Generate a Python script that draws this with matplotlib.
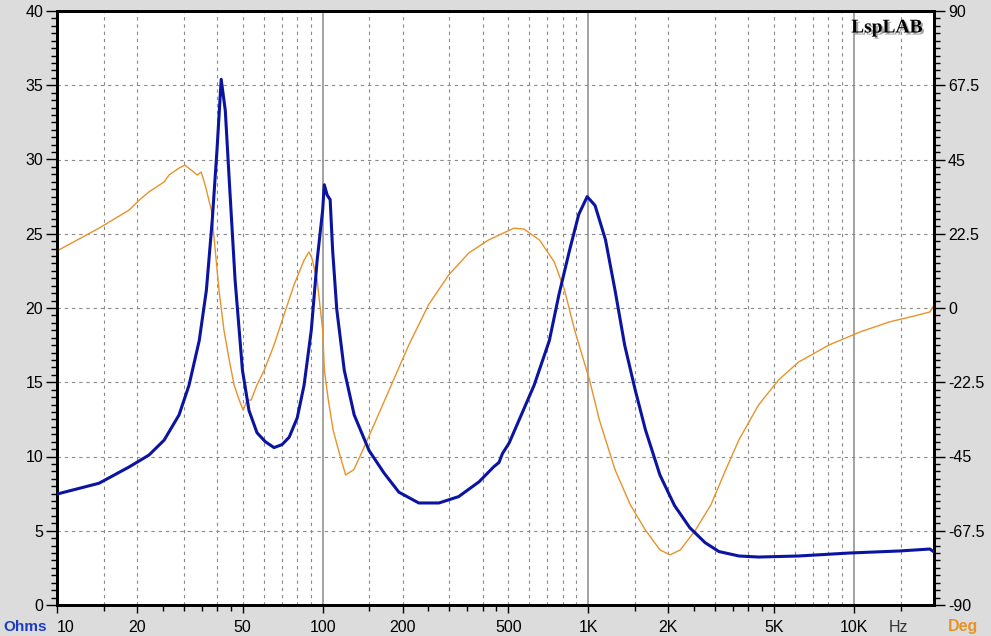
import matplotlib.pyplot as plt
import matplotlib.ticker as mticker
import matplotlib.patheffects as pe

plt.rcParams['font.family'] = ['Liberation Sans', 'DejaVu Sans']

# impedance magnitude (Ohms)
imp_freq = [10, 14.4, 18.7, 22.2, 25.3, 28.8, 31.4, 34.3, 36.5, 38.4, 40.0, 41.5, 43.0,
            44.5, 46.8, 49.9, 52.8, 56.6, 60.8, 65.6, 70.3, 74.8, 80.2, 85.1, 90.6,
            95.3, 100, 101.4, 104, 106.7, 109, 113, 120.6, 131.4, 149.5, 170, 193.5,
            230, 274, 325, 388, 440, 461, 475, 503, 550, 625, 713, 775, 850, 920, 990,
            1060, 1160, 1260, 1370, 1500, 1640, 1860, 2110, 2410, 2750, 3100, 3690,
            4370, 6180, 9600, 14900, 19300, 20000]
imp_ohm = [7.47, 8.2, 9.3, 10.1, 11.1, 12.8, 14.8, 17.8, 21.2, 25.9, 30.6, 35.4, 33.3,
           28.6, 21.9, 15.8, 13.1, 11.6, 11.0, 10.6, 10.8, 11.3, 12.6, 14.8, 18.5,
           23.2, 26.6, 28.3, 27.6, 27.3, 23.9, 19.9, 15.8, 12.8, 10.4, 8.9, 7.6,
           6.87, 6.87, 7.3, 8.3, 9.3, 9.6, 10.2, 10.9, 12.5, 14.8, 17.8, 20.9, 23.9,
           26.3, 27.5, 26.9, 24.6, 21.2, 17.5, 14.5, 11.8, 8.75, 6.7, 5.2, 4.2, 3.6,
           3.3, 3.23, 3.3, 3.5, 3.64, 3.77, 3.57]

# impedance phase (degrees)
ph_freq = [10, 14.4, 18.7, 20.4, 22.2, 25.3, 26.4, 28.8, 30.3, 32, 33.7, 34.9, 36.1,
           38.1, 39.4, 40.7, 42.5, 44.5, 46.4, 48.5, 50.2, 52, 53.8, 56.6, 60.3, 65.6,
           71.5, 78, 85.1, 88.8, 91, 95.3, 100, 101.5, 105, 109.5, 116, 122, 131, 139,
           156, 178, 211, 250, 298, 355, 421, 461, 525, 573, 655, 745, 813, 888, 1010,
           1100, 1260, 1440, 1640, 1860, 2030, 2220, 2530, 2890, 3290, 3690, 4370,
           5200, 6180, 8050, 10500, 13600, 16900, 19300, 20000]
ph_deg = [17.3, 24.2, 29.7, 32.7, 35.2, 38.2, 40.3, 42.4, 43.3, 41.8, 40.3, 41.2, 37.3,
          29.7, 17.6, 5.5, -6.7, -15.8, -23.3, -27.9, -30.9, -27.9, -27.9, -23.3, -18.8,
          -11.2, -2.1, 7.0, 14.5, 17.0, 15.2, 8.5, -6.7, -18.8, -27.9, -37.0, -44.5,
          -50.6, -49.0, -44.5, -35.4, -24.8, -11.2, 0.9, 10.0, 16.7, 20.6, 22.1, 24.2,
          23.9, 20.6, 13.9, 5.5, -6.7, -21.8, -33.9, -49.0, -59.7, -67.3, -73.3, -74.8,
          -73.3, -67.3, -59.7, -49.0, -39.9, -29.4, -21.8, -16.4, -11.2, -7.3, -4.2,
          -2.4, -1.2, 0.9]

x_major = [10, 20, 50, 100, 200, 500, 1000, 2000, 5000, 10000]
x_major_labels = ['10', '20', '50', '100', '200', '500', '1K', '2K', '5K', '10K']
x_minor = [15, 25, 30, 35, 40, 45, 150, 250, 300, 350, 400, 450,
           1500, 2500, 3000, 3500, 4000, 4500, 15000]
x_dashed = [15, 20, 30, 40, 50, 60, 70, 80, 90, 150, 200, 300, 400, 500, 600, 700,
            800, 900, 1500, 2000, 3000, 4000, 5000, 6000, 7000, 8000, 9000, 15000]
x_solid = [100, 1000, 10000]
y_ticks = [0, 5, 10, 15, 20, 25, 30, 35, 40]
deg_ticks = [-90, -67.5, -45, -22.5, 0, 22.5, 45, 67.5, 90]
deg_labels = ['-90', '-67.5', '-45', '-22.5', '0', '22.5', '45', '67.5', '90']

W, H = 991, 636
fig = plt.figure(figsize=(W / 100, H / 100), dpi=100, facecolor='#dcdcdc')
rect = [57 / W, (H - 605) / H, (934 - 57) / W, (605 - 11) / H]

# phase axes sits underneath and carries the white background + grid
ax2 = fig.add_axes(rect)
ax2.set_facecolor('white')
ax = fig.add_axes(rect, sharex=ax2)
ax.patch.set_visible(False)

grid_kw = dict(color='#8a8a8a', lw=0.8, ls=(0, (3, 3.5)), zorder=1)
for f in x_dashed:
    ax2.axvline(f, **grid_kw)
for f in x_solid:
    ax2.axvline(f, color='#8a8a8a', lw=1.1, zorder=1)
for v in deg_ticks[1:-1]:
    ax2.axhline(v, **grid_kw)

ax2.set_xscale('log')
ax2.set_xlim(10, 20000)
ax2.set_ylim(-90, 90)
ax.set_ylim(0, 40)

ax2.yaxis.tick_right()
ax2.yaxis.set_major_locator(mticker.FixedLocator(deg_ticks))
ax2.yaxis.set_major_formatter(mticker.FixedFormatter(deg_labels))
ax2.yaxis.set_minor_locator(mticker.MultipleLocator(2.25))
ax2.xaxis.set_visible(False)

ax.xaxis.set_major_locator(mticker.FixedLocator(x_major))
ax.xaxis.set_major_formatter(mticker.FixedFormatter(x_major_labels))
ax.xaxis.set_minor_locator(mticker.FixedLocator(x_minor))
ax.xaxis.set_minor_formatter(mticker.NullFormatter())
ax.yaxis.set_major_locator(mticker.FixedLocator(y_ticks))
ax.yaxis.set_minor_locator(mticker.MultipleLocator(0.5))

ax2.plot(ph_freq, ph_deg, color='#e8922a', lw=1.0, zorder=3)
ax.plot(imp_freq, imp_ohm, color='#0a14a0', lw=2.2, zorder=4)

for a in (ax, ax2):
    for s in a.spines.values():
        s.set_linewidth(2)
        s.set_color('black')

ax.tick_params(axis='y', which='major', direction='out', length=8, width=1,
               labelsize=11.5, colors='black', pad=2)
ax.tick_params(axis='y', which='minor', direction='out', length=4, width=1)
ax.tick_params(axis='x', which='major', direction='out', length=6, width=1,
               labelsize=11.5, pad=5)
ax.tick_params(axis='x', which='minor', direction='out', length=4, width=1)
ax2.tick_params(axis='y', which='major', direction='out', length=8, width=1,
                labelsize=11.5, pad=2)
ax2.tick_params(axis='y', which='minor', direction='out', length=4, width=1)

# first frequency label starts at the axis edge, as in the original
fig.canvas.draw()
ax.get_xticklabels()[0].set_horizontalalignment('left')

fig.text(3 / W, 1 - 627 / H, 'Ohms', color='#1a3cc0', fontsize=11,
         fontweight='bold', va='center', ha='left')
fig.text(898 / W, 1 - 627 / H, 'Hz', color='#333333', fontsize=11.5,
         va='center', ha='center')
fig.text(963 / W, 1 - 627 / H, 'Deg', color='#e8922a', fontsize=11.5,
         fontweight='bold', va='center', ha='center')

fig.text(887 / W, 1 - 28 / H, 'LspLAB', color='black', fontsize=14,
         fontweight='bold', family='Liberation Serif', va='center', ha='center',
         path_effects=[pe.withSimplePatchShadow(offset=(1.5, -1.5),
                                                shadow_rgbFace='#909090', alpha=0.8)])

fig.savefig('out.png', dpi=100, facecolor=fig.get_facecolor())
